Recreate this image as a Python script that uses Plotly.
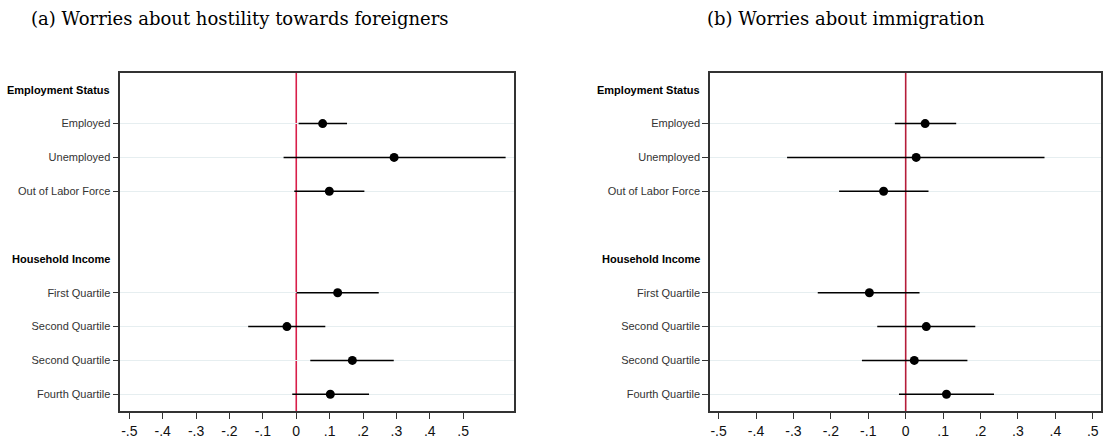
import plotly.graph_objects as go

# Row labels (data rows) and headers
headers = ["Employment Status", "Household Income"]
header_pos = [0, 5]
labels = ["Employed", "Unemployed", "Out of Labor Force",
          "First Quartile", "Second Quartile", "Second Quartile", "Fourth Quartile"]
row_pos = [1, 2, 3, 6, 7, 8, 9]

# Panel (a): Worries about hostility towards foreigners
a_est = [0.079, 0.293, 0.099, 0.124, -0.028, 0.168, 0.102]
a_lo = [0.007, -0.038, -0.006, 0.001, -0.144, 0.042, -0.012]
a_hi = [0.152, 0.627, 0.204, 0.247, 0.087, 0.292, 0.218]

# Panel (b): Worries about immigration
b_est = [0.052, 0.028, -0.059, -0.097, 0.055, 0.023, 0.109]
b_lo = [-0.029, -0.317, -0.178, -0.235, -0.076, -0.117, -0.018]
b_hi = [0.135, 0.371, 0.061, 0.037, 0.186, 0.165, 0.236]

titles = ["(a) Worries about hostility towards foreigners", "(b) Worries about immigration"]
xtick_vals = [-0.5, -0.4, -0.3, -0.2, -0.1, 0, 0.1, 0.2, 0.3, 0.4, 0.5]
xtick_text = ["-.5", "-.4", "-.3", "-.2", "-.1", "0", ".1", ".2", ".3", ".4", ".5"]

W, H = 1106, 439
fig = go.Figure()

panels = [
    dict(est=a_est, lo=a_lo, hi=a_hi, xr=[-0.527, 0.653], dom=[120.3 / W, 514.3 / W],
         refcol="#d81e4a", title_x=240 / W),
    dict(est=b_est, lo=b_lo, hi=b_hi, xr=[-0.523, 0.522], dom=[710 / W, 1101 / W],
         refcol="#b51d3a", title_x=846 / W),
]
ydom = [1 - 414 / H, 1 - 73.3 / H]

for i, p in enumerate(panels):
    xa = "x" if i == 0 else "x2"
    ya = "y" if i == 0 else "y2"
    plus = [h - e for h, e in zip(p["hi"], p["est"])]
    minus = [e - l for e, l in zip(p["est"], p["lo"])]
    fig.add_trace(go.Scatter(
        x=p["est"], y=row_pos, mode="markers", xaxis=xa, yaxis=ya,
        marker=dict(color="black", size=9),
        error_x=dict(type="data", symmetric=False, array=plus, arrayminus=minus,
                     color="black", thickness=1.5, width=0),
        showlegend=False, hoverinfo="skip"))
    axkey = "xaxis" if i == 0 else "xaxis2"
    aykey = "yaxis" if i == 0 else "yaxis2"
    fig.update_layout(**{
        axkey: dict(domain=p["dom"], range=p["xr"], anchor=ya,
                    tickvals=xtick_vals, ticktext=xtick_text,
                    ticks="outside", ticklen=6, tickcolor="#333", tickwidth=1,
                    showgrid=False, zeroline=False,
                    showline=True, linecolor="#333", linewidth=1.5, mirror=True,
                    tickfont=dict(family="Liberation Sans, Arial", size=14, color="#111")),
        aykey: dict(domain=ydom, range=[9.5, -0.5], anchor=xa,
                    tickvals=row_pos, ticktext=labels,
                    ticks="outside", ticklen=6, tickcolor="#333", tickwidth=1,
                    showgrid=True, gridcolor="#e6eef0", gridwidth=1,
                    zeroline=False,
                    showline=True, linecolor="#333", linewidth=1.5, mirror=True,
                    tickfont=dict(family="Liberation Sans, Arial", size=11, color="#333")),
    })
    # reference line at zero
    fig.add_shape(type="line", xref=xa, yref=f"{ya} domain", x0=0, x1=0, y0=0, y1=1,
                  line=dict(color=p["refcol"], width=1.6), layer="below")
    # headers
    for h, hp in zip(headers, header_pos):
        fig.add_annotation(text=f"<b>{h}</b>", xref=f"{xa} domain", yref=ya,
                           x=0, y=hp, xanchor="right", xshift=-8, showarrow=False,
                           font=dict(family="Liberation Sans, Arial", size=11, color="black"))
    # panel title
    fig.add_annotation(text=titles[i], xref="paper", yref="paper",
                       x=p["title_x"], y=1 - 19 / H, xanchor="center", yanchor="middle",
                       showarrow=False,
                       font=dict(family="DejaVu Serif, Liberation Serif, serif", size=18, color="black"))

fig.update_layout(width=W, height=H, margin=dict(l=0, r=0, t=0, b=0),
                  plot_bgcolor="white", paper_bgcolor="white")

fig.write_html("out.html", config={"displayModeBar": False},
               post_script="document.body.style.margin='0';")
